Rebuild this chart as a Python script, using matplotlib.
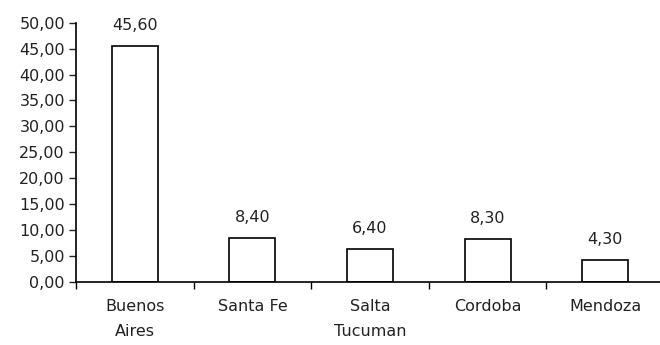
import numpy as np
import matplotlib
matplotlib.use("Agg")
import matplotlib.pyplot as plt

# data
regions = ["Buenos\nAires", "Santa Fe", "Salta\nTucuman", "Cordoba", "Mendoza"]
values = [45.60, 8.40, 6.40, 8.30, 4.30]
yticks = np.arange(0, 50.01, 5)

plt.rcParams["font.family"] = ["DejaVu Sans"]
plt.rcParams["font.size"] = 11.5

fig = plt.figure(figsize=(6.6, 3.45), dpi=100)
W, H = 660, 345
ax = fig.add_axes([76 / W, (H - 282) / H, (664 - 76) / W, (282 - 22.7) / H])

x = np.arange(len(regions))
ax.bar(x, values, width=0.39, color="white", edgecolor="black", linewidth=1.2)

for xi, v in zip(x, values):
    ax.annotate(f"{v:.2f}".replace(".", ","), (xi, v), xytext=(0, 11.5),
                textcoords="offset points", ha="center", va="baseline",
                color="#222222")

ax.set_xlim(-0.5, len(regions) - 0.5)
ax.set_ylim(0, 50)
ax.set_yticks(yticks)
ax.set_yticklabels([f"{v:.2f}".replace(".", ",") for v in yticks])

ax.set_xticks(x)
ax.set_xticklabels(regions, linespacing=1.85)
ax.set_xticks(np.arange(len(regions) + 1) - 0.5, minor=True)
ax.tick_params(axis="x", which="major", length=0, pad=12)
ax.tick_params(axis="x", which="minor", length=5, width=1, direction="out")
ax.tick_params(axis="y", length=5, width=1, direction="out", pad=3)
ax.tick_params(colors="#222222", labelcolor="#222222")

for s in ["top", "right"]:
    ax.spines[s].set_visible(False)
for s in ["left", "bottom"]:
    ax.spines[s].set_linewidth(1.2)
    ax.spines[s].set_color("black")

fig.savefig("out.png", dpi=100)
